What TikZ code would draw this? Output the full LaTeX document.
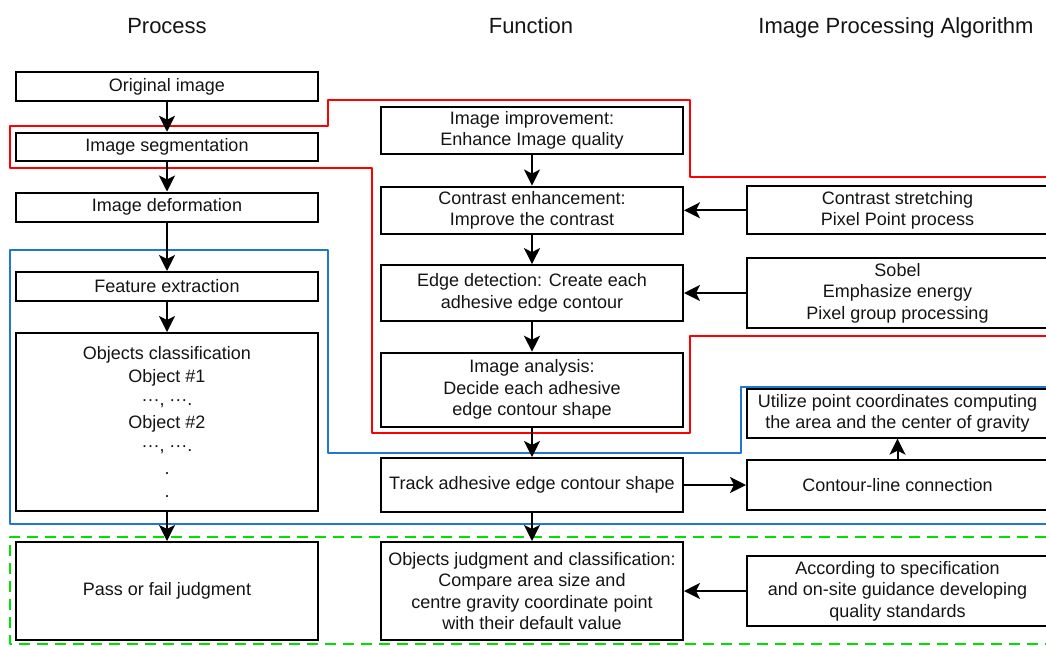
\documentclass[tikz,border=0pt]{standalone}
\usepackage{fontspec}
\setmainfont{Liberation Sans}
\usetikzlibrary{arrows.meta}
\definecolor{zred}{RGB}{255,0,0}
\definecolor{zblue}{RGB}{30,120,210}
\definecolor{zgreen}{RGB}{0,225,0}
\begin{document}
\begin{tikzpicture}[x=1pt,y=-1pt,
  box/.style={draw=black,line width=2pt,inner sep=0pt,align=center,
    font=\fontsize{18}{21.5}\selectfont,text=black!92},
  lbox/.style={box,minimum width=302pt},
  rbox/.style={box,minimum width=301pt},
  hdr/.style={anchor=base,font=\fontsize{22}{26}\selectfont,text=black!92},
  arr/.style={line width=2pt,-{Stealth[length=16pt,width=16pt,inset=4pt]}},
  zone/.style={line width=2.3pt,line join=round}]
\useasboundingbox (0,0) rectangle (1046,646);
\clip (0,0) rectangle (1046,646);

% headers
\node[hdr] (hproc) at (167,33) {Process};
\node[hdr] (hfunc) at (531,33) {Function};
\node[hdr] (halg) at (896,33) {Image Processing Algorithm};

% zone outlines
\draw[zone,zred] (1046,177) -- (690,177) -- (690,100) -- (328,100) -- (328,126)
  -- (10,126) -- (10,168) -- (372,168) -- (372,433) -- (690,433) -- (690,336) -- (1046,336);
\draw[zone,zblue] (1046,387) -- (741,387) -- (741,453) -- (328,453) -- (328,250)
  -- (10,250) -- (10,524) -- (1046,524);
\draw[zone,zgreen,dash pattern=on 11pt off 7pt] (1046,537) -- (10,537) -- (10,644) -- (1046,644);

% process column
\node[lbox,minimum height=29pt] (orig) at (167,86.5) {Original image};
\node[lbox,minimum height=28.5pt] (seg) at (167,147) {Image segmentation};
\node[lbox,minimum height=29pt] (deform) at (167,207) {Image deformation};
\node[lbox,minimum height=29pt] (feat) at (167,286.5) {Feature extraction};
\node[lbox,minimum height=178pt,font=\fontsize{18}{23}\selectfont] (objc) at (167,422)
  {Objects classification\\Object \#1\\···, ···.\\Object \#2\\···, ···.\\.\\.};
\node[lbox,minimum height=98pt] (pass) at (167,591) {Pass or fail judgment};

% function column
\node[lbox,minimum height=47.5pt] (impr) at (532,130.3) {Image improvement:\\Enhance Image quality};
\node[lbox,minimum height=47.5pt] (contr) at (532,210.3) {Contrast enhancement:\\Improve the contrast};
\node[lbox,minimum height=55.7pt] (edge) at (532,293) {Edge detection: Create each\\adhesive edge contour};
\node[lbox,minimum height=74pt] (anal) at (532,389.7) {Image analysis:\\Decide each adhesive\\edge contour shape};
\node[lbox,minimum height=54pt] (track) at (532,485) {Track adhesive edge contour shape};
\node[lbox,minimum height=98pt] (judg) at (532,591) {Objects judgment and classification:\\Compare area size and\\centre gravity coordinate point\\with their default value};

% algorithm column
\node[rbox,minimum height=48pt] (stretch) at (897.5,210.3) {Contrast stretching\\Pixel Point process};
\node[rbox,minimum height=70pt] (sobel) at (897.5,293) {Sobel\\Emphasize energy\\Pixel group processing};
\node[rbox,minimum height=48.7pt] (util) at (897.5,413.3) {Utilize point coordinates computing\\the area and the center of gravity};
\node[rbox,minimum height=50.7pt] (contour) at (897.5,485) {Contour-line connection};
\node[rbox,minimum height=69.7pt] (accord) at (897.5,591) {According to specification\\and on-site guidance developing\\quality standards};

% connectors
\draw[arr] (orig) -- (seg);
\draw[arr] (seg) -- (deform);
\draw[arr] (deform) -- (feat);
\draw[arr] (feat) -- (objc);
\draw[arr] (objc) -- (pass);
\draw[arr] (impr) -- (contr);
\draw[arr] (contr) -- (edge);
\draw[arr] (edge) -- (anal);
\draw[arr] (anal) -- (track);
\draw[arr] (track) -- (judg);
\draw[arr] (stretch) -- (contr);
\draw[arr] (sobel) -- (edge);
\draw[arr] (track) -- (contour);
\draw[arr] (contour) -- (util);
\draw[arr] (accord) -- (judg);
\end{tikzpicture}
\end{document}
